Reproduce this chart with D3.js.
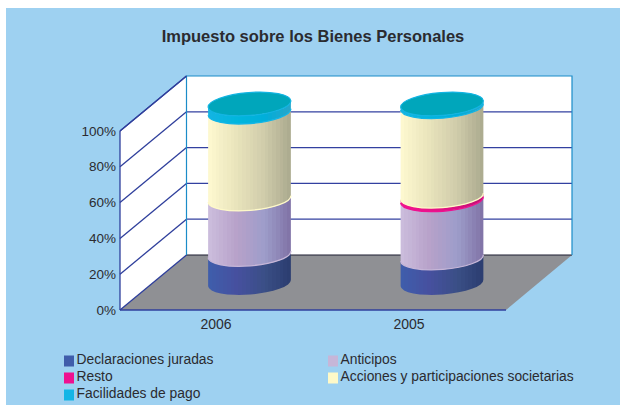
<!DOCTYPE html>
<html>
<head>
<meta charset="utf-8">
<script src="https://cdn.jsdelivr.net/npm/d3@7"></script>
<style>
  html, body { margin: 0; padding: 0; background: #fff; }
  text { font-family: "Liberation Sans", Arial, sans-serif; fill: #2b2b30; }
</style>
</head>
<body>
<svg id="chart" width="620" height="408"></svg>
<script>
// values, % of each year
var years = ["2006", "2005"]
var seriesNames = ["Declaraciones juradas", "Anticipos", "Resto", "Acciones y participaciones societarias", "Facilidades de pago"]
var declaraciones = [16, 14]
var anticipos = [31, 32.5]
var resto = [0, 2]
var acciones = [48.5, 50]
var facilidades = [4.5, 1.5]
var yTicks = [0, 20, 40, 60, 80, 100]

var seriesValues = [declaraciones, anticipos, resto, acciones, facilidades]

// left, mid-left, mid-right, right shades of each cylinder band
var bandShades = [
    ["#3f5dab", "#46509f", "#3a4f86", "#2a3b6e"],
    ["#cbbcdc", "#b7a1c9", "#9d9dca", "#7e6fa3"],
    ["#f0148c", "#e8138a", "#d8127f", "#b81272"],
    ["#fdf8cf", "#e8e3bb", "#cfcbaa", "#a8a78c"],
    ["#12b4e2", "#00b6dd", "#00aeda", "#2aa5c8"]
]
var legendColors = ["#3f5dab", "#c6b6d8", "#ee1090", "#fef9c8", "#12b5e6"]

var svg = d3.select("#chart")
var defs = svg.append("defs")

svg.append("rect").attr("x", 6).attr("y", 8).attr("width", 614).attr("height", 397).attr("fill", "#9ed1f1")

svg.append("text")
    .attr("x", 313).attr("y", 42)
    .attr("text-anchor", "middle")
    .attr("font-size", 16.5).attr("font-weight", "bold")
    .text("Impuesto sobre los Bienes Personales")

// front plane scales, the back plane is the front one shifted by depth
var yScale = d3.scaleLinear().domain([0, 100]).range([310, 131])
var xScale = d3.scaleBand().domain(years).range([120, 506])
var depth = { x: 66.5, y: -55 }
var backWidth = 572

function backX(x) { return x + depth.x }
function backY(v) { return yScale(v) + depth.y }

var x0 = xScale.range()[0], x1 = xScale.range()[1]
var yBottom = yScale(0), yTop = yScale(100)

// walls
svg.append("path")
    .attr("d", d3.line()([[x0, yBottom], [backX(x0), backY(0)], [backX(x0), backY(100)], [x0, yTop]]) + "Z")
    .attr("fill", "#fff")
svg.append("rect")
    .attr("x", backX(x0)).attr("y", backY(100))
    .attr("width", backWidth - backX(x0)).attr("height", backY(0) - backY(100))
    .attr("fill", "#fff")

// floor
svg.append("path")
    .attr("d", d3.line()([[x0, yBottom], [backX(x0), backY(0)], [backWidth, backY(0)], [x1, yBottom]]) + "Z")
    .attr("fill", "#8f9094")

// gridlines
yTicks.forEach(function (t) {
    if (t > 0 && t < 100) {
        svg.append("line")
            .attr("x1", backX(x0)).attr("y1", backY(t))
            .attr("x2", backWidth).attr("y2", backY(t))
            .attr("stroke", "#3340a0").attr("stroke-width", 1.2)
    }
    svg.append("line")
        .attr("x1", x0).attr("y1", yScale(t))
        .attr("x2", backX(x0)).attr("y2", backY(t))
        .attr("stroke", "#2f3f9c").attr("stroke-width", 1.3)
})
svg.append("line").attr("x1", x0).attr("y1", yBottom).attr("x2", x0).attr("y2", yTop)
    .attr("stroke", "#2f3f9c").attr("stroke-width", 1.3)
svg.append("line").attr("x1", x0).attr("y1", yBottom).attr("x2", x1).attr("y2", yBottom)
    .attr("stroke", "#2f3f9c").attr("stroke-width", 1.3)
svg.append("line").attr("x1", backX(x0)).attr("y1", backY(0)).attr("x2", backWidth).attr("y2", backY(0))
    .attr("stroke", "#1c1c30").attr("stroke-width", 1.2)
// light blue frame of the back wall
svg.append("path")
    .attr("d", d3.line()([[backX(x0), backY(0)], [backX(x0), backY(100)], [backWidth, backY(100)], [backWidth, backY(0)]]))
    .attr("fill", "none").attr("stroke", "#1b8cc8").attr("stroke-width", 1.2)
svg.append("line").attr("x1", x0).attr("y1", yTop).attr("x2", backX(x0)).attr("y2", backY(100))
    .attr("stroke", "#2f3f9c").attr("stroke-width", 1.3)

// y tick labels
svg.append("g").selectAll("text").data(yTicks).join("text")
    .attr("x", 116).attr("y", function (d) { return yScale(d) + 4.5 })
    .attr("text-anchor", "end").attr("font-size", 13.5)
    .text(function (d) { return d + "%" })

// x labels
svg.append("g").selectAll("text").data(years).join("text")
    .attr("x", function (d) { return xScale(d) + xScale.bandwidth() / 2 - 0.5 })
    .attr("y", 329)
    .attr("text-anchor", "middle").attr("font-size", 14)
    .text(function (d) { return d })

// gradients with narrow vertical strips, like the facets of the cylinder
bandShades.forEach(function (shades, i) {
    var grad = defs.append("linearGradient").attr("id", "band" + i)
    var col = d3.scaleLinear().domain([0, 0.33, 0.66, 1]).range(shades)
    var strips = d3.range(0, 1, 1 / 22)
    strips.forEach(function (s) {
        grad.append("stop").attr("offset", s).attr("stop-color", col(s))
        grad.append("stop").attr("offset", s + 1 / 22).attr("stop-color", col(s))
    })
})

// cylinders: tilted ellipse cross section
var cyl = { rx: 41.5, ry: 11.5, tilt: -4.5 }
var cylDx = cyl.rx * Math.cos(cyl.tilt * Math.PI / 180)
var cylDy = cyl.rx * Math.sin(cyl.tilt * Math.PI / 180)
var heightScale = d3.scaleLinear().domain([0, 100]).range([0, 179])

function lowerEdge(cx, y) {
    return "A" + cyl.rx + "," + cyl.ry + " " + cyl.tilt + " 0 0 " + (cx + cylDx) + "," + (y + cylDy)
}

function bandPath(cx, yLow, yHigh) {
    return "M" + (cx - cylDx) + "," + (yHigh - cylDy) +
        "L" + (cx - cylDx) + "," + (yLow - cylDy) +
        lowerEdge(cx, yLow) +
        "L" + (cx + cylDx) + "," + (yHigh + cylDy) +
        "A" + cyl.rx + "," + cyl.ry + " " + cyl.tilt + " 0 1 " + (cx - cylDx) + "," + (yHigh - cylDy) + "Z"
}

var centres = d3.scaleOrdinal().domain(years).range([249.5, 442])
var cylBase = 283

years.forEach(function (year, yi) {
    var cx = centres(year)
    var stacked = 0
    seriesValues.forEach(function (vals, si) {
        var v = vals[yi]
        if (v <= 0) return
        var low = cylBase - heightScale(stacked)
        var isFirst = stacked == 0
        stacked += v
        var high = cylBase - heightScale(stacked)
        svg.append("path")
            .attr("d", bandPath(cx, low, high))
            .attr("fill", "url(#band" + si + ")")
        // pale rim where the band sits on the one below
        if (!isFirst) {
            svg.append("path")
                .attr("d", "M" + (cx - cylDx) + "," + (low - cylDy) + lowerEdge(cx, low))
                .attr("fill", "none").attr("stroke", legendColors[si]).attr("stroke-width", 1.3)
        }
    })
    // top cap
    var capY = cylBase - heightScale(stacked)
    svg.append("ellipse")
        .attr("cx", cx).attr("cy", capY)
        .attr("rx", cyl.rx).attr("ry", cyl.ry)
        .attr("transform", "rotate(" + cyl.tilt + " " + cx + " " + capY + ")")
        .attr("fill", "#00a6bb")
        .attr("stroke", "#12b4e2").attr("stroke-width", 1.2)
})

// legend
var legendCols = [63, 327]
var legendRows = [359, 376, 393]
var legendPlaces = [[0, 0], [1, 0], [0, 1], [1, 1], [0, 2]]
seriesNames.forEach(function (name, i) {
    var p = legendPlaces[i]
    svg.append("rect")
        .attr("x", legendCols[p[0]] + 1).attr("y", legendRows[p[1]] - 3.5)
        .attr("width", 10).attr("height", 11)
        .attr("fill", legendColors[i])
    svg.append("text")
        .attr("x", legendCols[p[0]] + 13.5).attr("y", legendRows[p[1]] + 5)
        .attr("font-size", 13.85)
        .text(name)
})
</script>
</body>
</html>
